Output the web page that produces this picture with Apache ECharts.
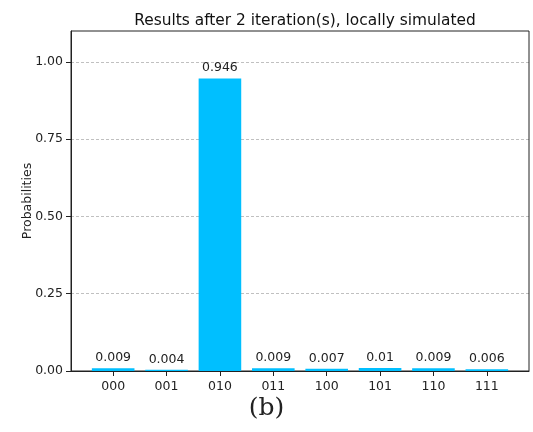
<!DOCTYPE html>
<html><head><meta charset="utf-8">
<script src="https://cdn.jsdelivr.net/npm/echarts@6/dist/echarts.min.js"></script>
<style>html,body{margin:0;padding:0;background:#fff}#c{width:533px;height:432px}</style>
</head><body><div id="c"></div>
<script>
const categories = ['000','001','010','011','100','101','110','111'];
const probabilities = [0.009, 0.004, 0.946, 0.009, 0.007, 0.01, 0.009, 0.006];
const yTicks = [0, 0.25, 0.5, 0.75, 1.0];
const titleText = 'Results after 2 iteration(s), locally simulated';
const yName = 'Probabilities';
const caption = '(b)';

const chart = echarts.init(document.getElementById('c'), null, {renderer:'canvas'});
const font = 'DejaVu Sans';
chart.setOption({
  animation:false,
  backgroundColor:'#fff',
  title:{text:titleText,left:300,top:8,textAlign:'center',
    textStyle:{fontFamily:font,fontSize:15.4,fontWeight:'normal',color:'#111'}},
  grid:{left:71,right:4,top:31,bottom:61,show:true,borderColor:'#222',borderWidth:1,backgroundColor:'transparent'},
  xAxis:{type:'value',min:-0.79,max:7.79,
    axisLine:{show:true,onZero:false,lineStyle:{color:'#222',width:1}},
    splitLine:{show:false},
    axisTick:{show:true,length:5,lineStyle:{color:'#222',width:1},customValues:categories.map((c,i)=>i)},
    axisLabel:{customValues:categories.map((c,i)=>i),formatter:v=>categories[Math.round(v)]??'',
      fontFamily:font,fontSize:12.5,color:'#222',margin:9}
  },
  yAxis:{type:'value',min:0,max:1.1,
    name:yName,nameLocation:'middle',nameGap:37,nameRotate:90,nameMoveOverlap:false,
    nameTextStyle:{fontFamily:font,fontSize:12.5,color:'#222'},
    axisLine:{show:true,onZero:false,lineStyle:{color:'#222',width:1}},
    splitLine:{show:false},
    axisTick:{show:true,length:5,lineStyle:{color:'#222',width:1},customValues:yTicks},
    axisLabel:{customValues:yTicks,formatter:v=>v.toFixed(2),fontFamily:font,fontSize:12.5,color:'#222',margin:8}
  },
  series:[{
    type:'bar',
    barWidth:42.6,
    data:probabilities.map((p,i)=>[i,p]),
    itemStyle:{color:'#00BFFF'},
    label:{show:true,position:'top',distance:4,formatter:p=>String(p.value[1]),
      fontFamily:font,fontSize:12.5,color:'#222'},
    markLine:{silent:true,symbol:'none',label:{show:false},
      lineStyle:{type:[3,2],color:'#b0b0b0',width:0.8},
      data:yTicks.filter(v=>v>0).map(v=>({yAxis:v})),z:-1}
  }],
  graphic:[{type:'text',left:'center',top:396,x:0,
    style:{text:caption,fontFamily:'DejaVu Serif',fontSize:25,fill:'#222'}}]
});
</script></body></html>
